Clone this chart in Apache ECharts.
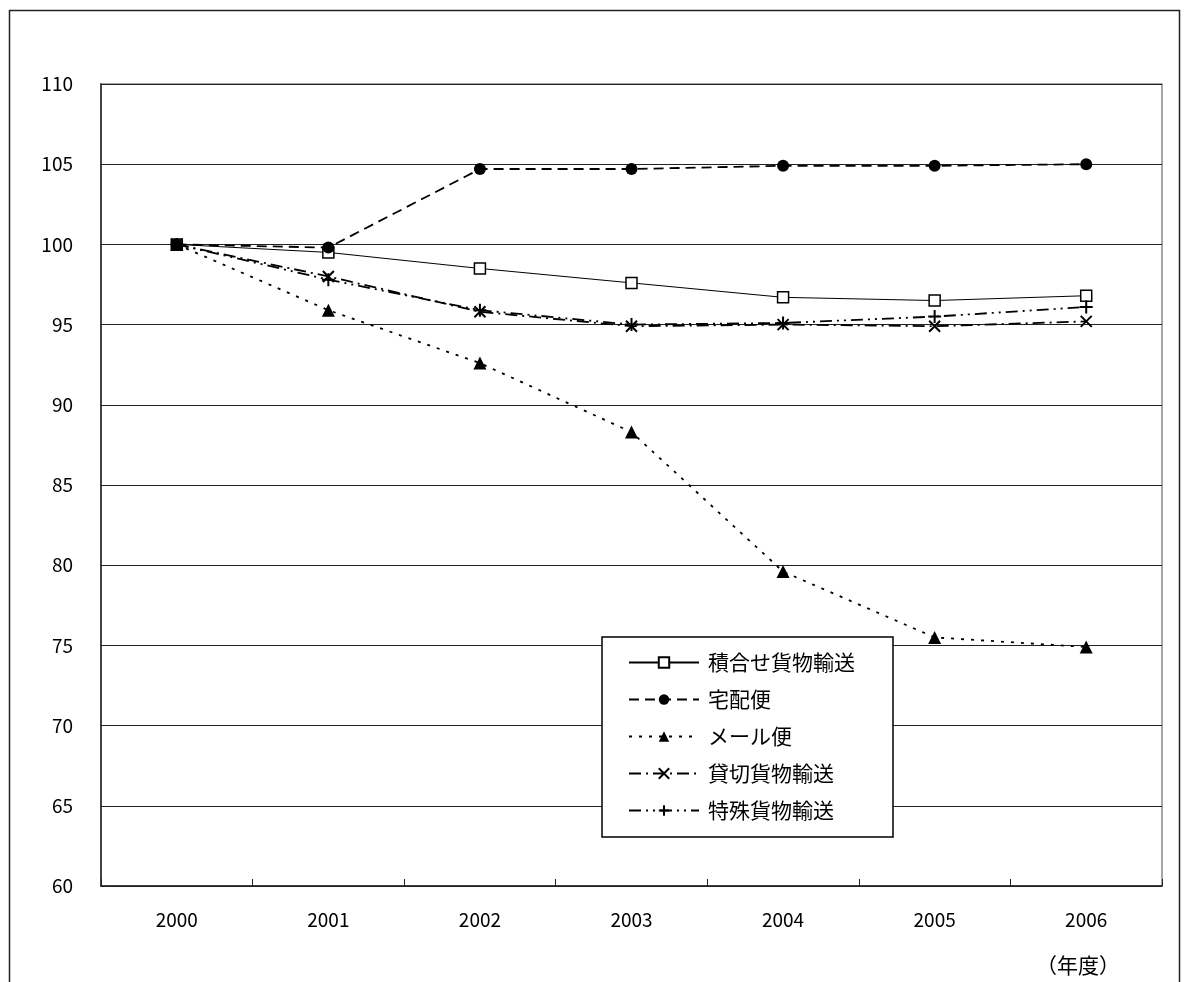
<!DOCTYPE html>
<html>
<head>
<meta charset="utf-8">
<script src="https://cdn.jsdelivr.net/npm/echarts@6/dist/echarts.min.js"></script>
<style>
  html, body { margin: 0; padding: 0; background: #fff; }
  #chart { width: 1184px; height: 982px; }
</style>
</head>
<body>
<div id="chart"></div>
<script>
// 年度
const years = ['2000', '2001', '2002', '2003', '2004', '2005', '2006'];
// 2000年度 = 100 とした指数
const tsumiawase = [100, 99.5, 98.5, 97.6, 96.7, 96.5, 96.8];   // 積合せ貨物輸送
const takuhaibin = [100, 99.8, 104.7, 104.7, 104.9, 104.9, 105.0]; // 宅配便
const mailbin = [100, 95.9, 92.6, 88.3, 79.6, 75.5, 74.9];         // メール便
const kashikiri = [100, 98.0, 95.8, 94.9, 95.0, 94.9, 95.2];       // 貸切貨物輸送
const tokushu = [100, 97.8, 95.9, 95.0, 95.1, 95.5, 96.1];         // 特殊貨物輸送
const yTicks = { min: 60, max: 110, step: 5 };

const FONT = '"Noto Sans CJK JP", sans-serif';
const crossPath = 'path://M0,0L10,10M10,0L0,10';
const plusPath = 'path://M5,0L5,10M0,5L10,5';

function lineSeries(name, data, opts) {
  return Object.assign({
    name: name,
    type: 'line',
    data: data,
    symbolKeepAspect: true,
    z: 3
  }, opts);
}

const chart = echarts.init(document.getElementById('chart'));
chart.setOption({
  animation: false,
  backgroundColor: '#fff',
  textStyle: { fontFamily: FONT, color: '#000' },
  graphic: [
    {
      type: 'rect',
      shape: { x: 9.5, y: 10.5, width: 1170, height: 1000 },
      style: { fill: 'none', stroke: '#222', lineWidth: 1.5 },
      silent: true
    },
    {
      type: 'text',
      x: 1078,
      y: 965,
      style: {
        text: '（年度）', font: '21px ' + FONT, fill: '#000',
        align: 'center', verticalAlign: 'middle'
      }
    }
  ],
  grid: {
    left: 101, top: 84, right: 22, bottom: 96,
    show: true, borderColor: '#888', borderWidth: 1.5, backgroundColor: 'transparent'
  },
  legend: {
    orient: 'vertical',
    left: 602, top: 637,
    padding: [15, 38, 16, 26],
    borderColor: '#000', borderWidth: 1.5,
    backgroundColor: '#fff',
    itemWidth: 70, itemHeight: 13, itemGap: 16,
    textStyle: { fontFamily: FONT, fontSize: 21, color: '#000', padding: [0, 0, 0, 4] },
    data: ['積合せ貨物輸送', '宅配便', 'メール便', '貸切貨物輸送', '特殊貨物輸送']
  },
  xAxis: {
    type: 'category',
    data: years,
    boundaryGap: true,
    axisLine: { lineStyle: { color: '#222', width: 1.5 } },
    axisTick: { show: true, inside: true, length: 7, lineStyle: { color: '#222' } },
    axisLabel: { fontFamily: FONT, fontSize: 19, color: '#000', margin: 24 },
    splitLine: { show: false }
  },
  yAxis: {
    type: 'value',
    min: yTicks.min, max: yTicks.max, interval: yTicks.step,
    axisLine: { show: true, lineStyle: { color: '#222', width: 1.5 } },
    axisTick: { show: true, inside: true, length: 6, lineStyle: { color: '#222' } },
    axisLabel: { fontFamily: FONT, fontSize: 19, color: '#000', margin: 28 },
    splitLine: { show: true, lineStyle: { color: '#222', width: 1.2 } }
  },
  series: [
    lineSeries('積合せ貨物輸送', tsumiawase, {
      symbol: 'rect', symbolSize: 11,
      itemStyle: { color: '#fff', borderColor: '#000', borderWidth: 1.5 },
      lineStyle: { color: '#000', width: 1, type: 'solid' }
    }),
    lineSeries('宅配便', takuhaibin, {
      symbol: 'circle', symbolSize: 12,
      itemStyle: { color: '#000', borderColor: '#000', borderWidth: 0 },
      lineStyle: { color: '#000', width: 1.8, type: [10, 6] }
    }),
    lineSeries('メール便', mailbin, {
      symbol: 'triangle', symbolSize: 13,
      itemStyle: { color: '#000', borderColor: '#000', borderWidth: 0 },
      lineStyle: { color: '#000', width: 1.8, type: [3, 7] }
    }),
    lineSeries('貸切貨物輸送', kashikiri, {
      symbol: crossPath, symbolSize: 11,
      itemStyle: { color: 'none', borderColor: '#000', borderWidth: 2 },
      lineStyle: { color: '#000', width: 1.8, type: [12, 5, 2, 5] }
    }),
    lineSeries('特殊貨物輸送', tokushu, {
      symbol: plusPath, symbolSize: 13,
      itemStyle: { color: 'none', borderColor: '#000', borderWidth: 2 },
      lineStyle: { color: '#000', width: 1.8, type: [12, 5, 2, 5, 2, 5] }
    })
  ]
});
</script>
</body>
</html>
